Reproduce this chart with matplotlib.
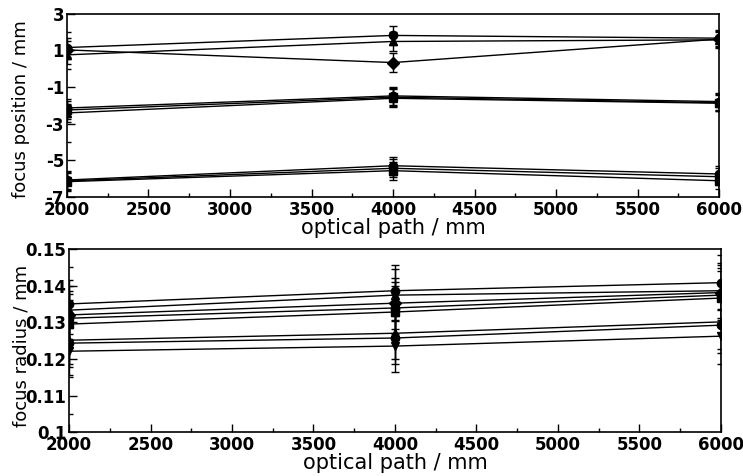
import matplotlib
matplotlib.use('Agg')
import matplotlib.pyplot as plt
from matplotlib.ticker import MultipleLocator

plt.rcParams['font.family'] = ['DejaVu Sans']
plt.rcParams['axes.unicode_minus'] = False

path = [2000, 4000, 6000]

# focus position (mm), three groups of three series
pos_series = [
    [1.16, 1.82, 1.67],
    [0.76, 1.49, 1.58],
    [1.03, 0.34, 1.62],
    [-2.14, -1.48, -1.79],
    [-2.25, -1.55, -1.85],
    [-2.41, -1.61, -1.88],
    [-6.07, -5.29, -5.74],
    [-6.12, -5.43, -5.89],
    [-6.16, -5.56, -6.11],
]
pos_err = [0.5, 0.5, 0.45]

# focus radius (mm)
rad_series = [
    [0.1350, 0.1386, 0.1408],
    [0.1333, 0.1374, 0.1386],
    [0.1320, 0.1352, 0.1381],
    [0.1311, 0.1339, 0.1374],
    [0.1295, 0.1328, 0.1366],
    [0.1251, 0.1270, 0.1301],
    [0.1243, 0.1257, 0.1292],
    [0.1221, 0.1235, 0.1262],
]
rad_err = [0.0065, 0.007, 0.0075]

markers = ['o', '^', 'D', 'o', 's', '^', 'o', 'v', 's']

fig = plt.figure(figsize=(7.43, 4.76), dpi=100)
ax1 = fig.add_axes([0.090, 0.586, 0.878, 0.385])
ax2 = fig.add_axes([0.093, 0.092, 0.877, 0.385])


def style_axis(ax):
    ax.set_xlim(2000, 6000)
    ax.xaxis.set_major_locator(MultipleLocator(500))
    ax.xaxis.set_minor_locator(MultipleLocator(250))
    ax.tick_params(which='both', direction='in', labelsize=12,
                   top=False, right=False)
    ax.tick_params(axis='x', pad=3)
    ax.tick_params(axis='y', pad=2)
    ax.tick_params(which='major', length=6, width=1)
    ax.tick_params(which='minor', length=3, width=1)
    for s in ax.spines.values():
        s.set_linewidth(1.2)
    for lab in ax.get_xticklabels() + ax.get_yticklabels():
        lab.set_fontweight('bold')


for i, ys in enumerate(pos_series):
    ax1.errorbar(path, ys, yerr=pos_err, color='black', lw=1, elinewidth=1,
                 capsize=3, marker=markers[i], ms=6)
ax1.set_ylim(-7, 3)
ax1.yaxis.set_minor_locator(MultipleLocator(1))
ax1.set_yticks([3, 1, -1, -3, -5, -7])
style_axis(ax1)
ax1.set_xlabel('optical path / mm', fontsize=15, labelpad=-1)
ax1.set_ylabel('focus position / mm', fontsize=13)
ax1.yaxis.set_label_coords(-0.057, 0.48)

for i, ys in enumerate(rad_series):
    ax2.errorbar(path, ys, yerr=rad_err, color='black', lw=1, elinewidth=1,
                 capsize=3, marker=markers[i], ms=6)
ax2.set_ylim(0.1, 0.15)
ax2.yaxis.set_minor_locator(MultipleLocator(0.005))
ax2.set_yticks([0.1, 0.11, 0.12, 0.13, 0.14, 0.15])
ax2.set_yticklabels(['0.1', '0.11', '0.12', '0.13', '0.14', '0.15'])
style_axis(ax2)
ax2.set_xlabel('optical path / mm', fontsize=15, labelpad=-1)
ax2.set_ylabel('focus radius / mm', fontsize=13)
ax2.yaxis.set_label_coords(-0.06, 0.47)

fig.savefig('out.png', dpi=100)
